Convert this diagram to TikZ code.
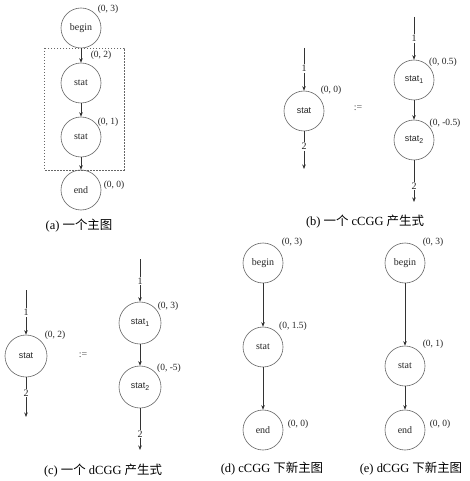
\documentclass[tikz,border=0pt]{standalone}
\usepackage{fontspec}
\setmainfont{Liberation Serif}
\setsansfont{Liberation Sans}
\newfontfamily\cjk{Noto Sans CJK SC}
\usetikzlibrary{arrows.meta}
\newcommand{\sub}[1]{\raisebox{-0.45ex}{\fontsize{7}{8}\selectfont #1}}
\begin{document}
\begin{tikzpicture}[x=1bp,y=-1bp,
 vtx/.style={circle,draw=black!60,line width=0.6bp,minimum size=40bp,inner sep=0pt,text=black!85,font=\fontsize{10}{12}\selectfont},
 svtx/.style={vtx,font=\sffamily\fontsize{9}{11}\selectfont},
 crd/.style={font=\fontsize{9.5}{11}\selectfont,inner sep=0pt,text=black!85},
 edg/.style={draw=black!80,line width=0.6bp,-{Stealth[length=4.5bp,width=3.5bp]}},
 elab/.style={fill=white,inner sep=1bp,text=black!85,font=\fontsize{10}{12}\selectfont},
 eqs/.style={font=\fontsize{10}{12}\selectfont,text=black!70},
 captxt/.style={font=\fontsize{12.5}{14}\selectfont}]
\useasboundingbox[fill=white] (0,0) rectangle (470,481);

% ---------- (a)
\node[vtx] (ab) at (81,28) {begin};
\node[vtx] (as1) at (81,83) {stat};
\node[vtx] (as2) at (81,137) {stat};
\node[vtx] (ae) at (81,190) {end};
\draw[draw=black!60,line width=0.5bp,dash pattern=on 1.5bp off 1.5bp] (44,48) rectangle (124,170);
\draw[edg] (ab) -- (as1);
\draw[edg] (as1) -- (as2);
\draw[edg] (as2) -- (ae);
\node[crd] (la1) at (108,9) {(0, 3)};
\node[crd] (la2) at (101,55) {(0, 2)};
\node[crd] (la3) at (108,122) {(0, 1)};
\node[crd] (la4) at (114,185) {(0, 0)};
\node[captxt] (capa) at (79,226) {(a)\ {\cjk 一个主图}};

% ---------- (b)
\node[svtx] (bs) at (304,111) {stat};
\coordinate (bin) at (304,48);
\coordinate (bout) at (304,169);
\draw[edg] (bin) -- node[elab,pos=0.48] (b1) {1} (bs);
\draw[edg] (bs) -- node[elab,pos=0.4] (b2) {2} (bout);
\node[crd] (lb1) at (331,90) {(0, 0)};
\node[eqs] (beq) at (358,108) {:=};
\node[svtx] (bt1) at (414,80) {stat\sub{1}};
\node[svtx] (bt2) at (414,140) {stat\sub{2}};
\coordinate (bin2) at (414,17);
\coordinate (bout2) at (414,202);
\draw[edg] (bin2) -- node[elab,pos=0.5] (b3) {1} (bt1);
\draw[edg] (bt1) -- (bt2);
\draw[edg] (bt2) -- node[elab,pos=0.62] (b4) {2} (bout2);
\node[crd] (lb2) at (443,62) {(0, 0.5)};
\node[crd] (lb3) at (445,123) {(0, -0.5)};
\node[captxt] (capb) at (365,222) {(b)\ {\cjk 一个} cCGG {\cjk 产生式}};

% ---------- (c)
\node[svtx,minimum size=42bp] (cs) at (26,356) {stat};
\coordinate (cin) at (26,290);
\coordinate (cout) at (26,417);
\draw[edg] (cin) -- node[elab,pos=0.5] (c1) {1} (cs);
\draw[edg] (cs) -- node[elab,pos=0.4] (c2) {2} (cout);
\node[crd] (lc1) at (55,335) {(0, 2)};
\node[eqs] (ceq) at (83,355) {:=};
\node[svtx,minimum size=42bp] (ct1) at (140,323) {stat\sub{1}};
\node[svtx,minimum size=42bp] (ct2) at (140,387) {stat\sub{2}};
\coordinate (cin2) at (140,259);
\coordinate (cout2) at (140,450);
\draw[edg] (cin2) -- node[elab,pos=0.52] (c3) {1} (ct1);
\draw[edg] (ct1) -- (ct2);
\draw[edg] (ct2) -- node[elab,pos=0.62] (c4) {2} (cout2);
\node[crd] (lc2) at (168,306) {(0, 3)};
\node[crd] (lc3) at (169,368) {(0, -5)};
\node[captxt] (capc) at (103,471) {(c)\ {\cjk 一个} dCGG {\cjk 产生式}};

% ---------- (d)
\node[vtx] (db) at (263,263) {begin};
\node[vtx] (ds) at (263,347) {stat};
\node[vtx] (de) at (263,430) {end};
\draw[edg] (db) -- (ds);
\draw[edg] (ds) -- (de);
\node[crd] (ld1) at (292,242) {(0, 3)};
\node[crd] (ld2) at (293,326) {(0, 1.5)};
\node[crd] (ld3) at (298,424) {(0, 0)};
\node[captxt] (capd) at (272,469) {(d) cCGG {\cjk 下新主图}};

% ---------- (e)
\node[vtx] (eb) at (405,263) {begin};
\node[vtx] (es) at (405,366) {stat};
\node[vtx] (ee) at (405,430) {end};
\draw[edg] (eb) -- (es);
\draw[edg] (es) -- (ee);
\node[crd] (le1) at (433,242) {(0, 3)};
\node[crd] (le2) at (433,344) {(0, 1)};
\node[crd] (le3) at (440,424) {(0, 0)};
\node[captxt] (cape) at (411,469) {(e) dCGG {\cjk 下新主图}};
\end{tikzpicture}
\end{document}
